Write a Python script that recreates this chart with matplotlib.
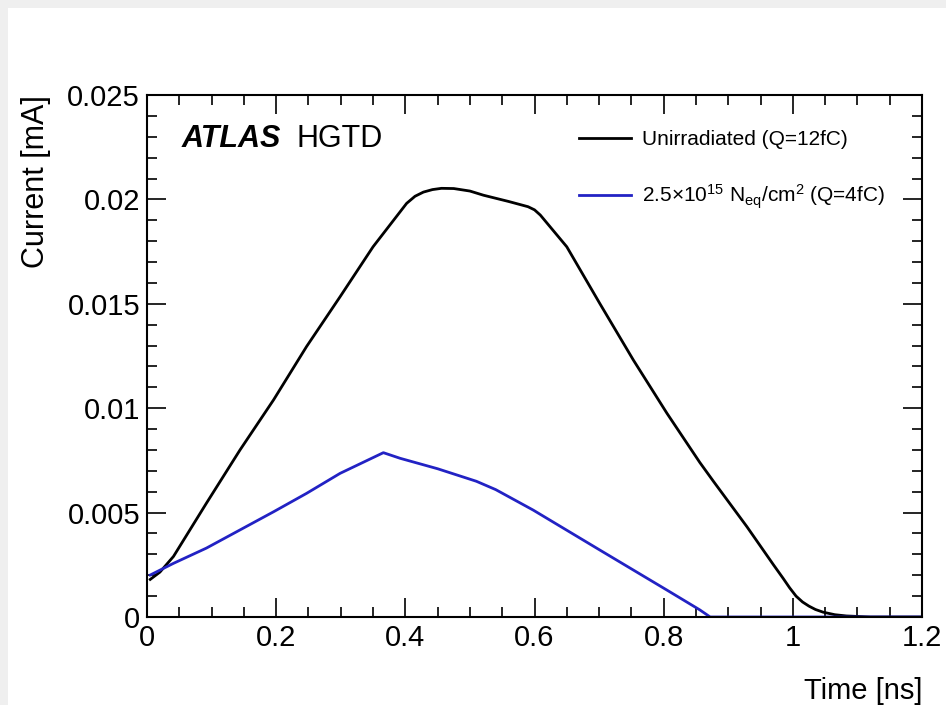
import numpy as np
import matplotlib
matplotlib.use("Agg")
import matplotlib.pyplot as plt
from matplotlib.patches import Rectangle
from matplotlib.ticker import MultipleLocator

plt.rcParams['font.family'] = ['Liberation Sans', 'DejaVu Sans']
plt.rcParams['mathtext.fontset'] = 'custom'
plt.rcParams['mathtext.rm'] = 'Liberation Sans'
plt.rcParams['mathtext.it'] = 'Liberation Sans:italic'
plt.rcParams['mathtext.bf'] = 'Liberation Sans:bold'

# unirradiated sensor, Q = 12 fC
t_unirr = [0.005, 0.020, 0.041, 0.092, 0.144, 0.196, 0.247, 0.299, 0.350, 0.402,
           0.415, 0.428, 0.442, 0.456, 0.475, 0.500, 0.521, 0.560, 0.590, 0.600,
           0.609, 0.650, 0.701, 0.753, 0.805, 0.856, 0.877, 0.929, 0.970, 0.985,
           0.995, 1.005, 1.015, 1.025, 1.035, 1.047, 1.065, 1.083, 1.120, 1.200]
i_unirr = [0.00180, 0.00215, 0.00290, 0.00545, 0.0080, 0.0104, 0.01295, 0.01534, 0.01773, 0.01981,
           0.02015, 0.02035, 0.02047, 0.02053, 0.02052, 0.02040, 0.0202, 0.0199, 0.01965, 0.01950,
           0.01925, 0.01773, 0.01502, 0.01231, 0.00976, 0.00740, 0.00650, 0.00432, 0.00250, 0.00185,
           0.00140, 0.00100, 0.00072, 0.00052, 0.00036, 0.00023, 0.00011, 0.00005, 0.0, 0.0]

# irradiated sensor 2.5e15 neq/cm2, Q = 4 fC
t_irr = [0.005, 0.041, 0.092, 0.144, 0.196, 0.247, 0.299, 0.366, 0.392, 0.450,
         0.510, 0.540, 0.598, 0.701, 0.805, 0.856, 0.872, 1.200]
i_irr = [0.00201, 0.00257, 0.00330, 0.00417, 0.00504, 0.00592, 0.00688, 0.00787, 0.0076, 0.0071,
         0.0065, 0.0061, 0.00512, 0.00321, 0.00129, 0.00034, 0.0, 0.0]

labels = ['Unirradiated (Q=12fC)',
          '2.5×10$^{15}$ N$_{\\mathrm{eq}}$/cm$^{2}$ (Q=4fC)']

fig = plt.figure(figsize=(9.46, 7.05), dpi=100)
fig.patch.set_facecolor('#efefef')
fig.patches.append(Rectangle((8 / 946, 0), 1, 1 - 8 / 705, transform=fig.transFigure,
                             facecolor='white', edgecolor='none', zorder=-10))

ax = fig.add_axes([147 / 946, 1 - 617 / 705, 775 / 946, 522 / 705])
ax.plot(t_unirr, i_unirr, color='black', lw=2, label=labels[0])
ax.plot(t_irr, i_irr, color='#2222c4', lw=2, label=labels[1])

ax.set_xlim(0, 1.2)
ax.set_ylim(0, 0.025)
ax.xaxis.set_minor_locator(MultipleLocator(0.05))
ax.yaxis.set_minor_locator(MultipleLocator(0.001))
ax.set_xticks([0, 0.2, 0.4, 0.6, 0.8, 1.0, 1.2], ['0', '0.2', '0.4', '0.6', '0.8', '1', '1.2'])
ax.set_yticks([0, 0.005, 0.01, 0.015, 0.02, 0.025], ['0', '0.005', '0.01', '0.015', '0.02', '0.025'])
ax.tick_params(which='both', direction='in', top=True, right=True, width=1.2)
ax.tick_params(axis='y', labelsize=21)
ax.tick_params(axis='x', labelsize=21)
ax.tick_params(which='major', length=14, pad=5)
ax.tick_params(which='minor', length=7)
for s in ax.spines.values():
    s.set_linewidth(1.5)

ax.set_ylabel('Current [mA]', fontsize=22, loc='top', labelpad=12)
ax.set_xlabel('Time [ns]', fontsize=21, loc='right', labelpad=18)

ax.text(0.045, 0.915, 'ATLAS', transform=ax.transAxes, fontsize=22, fontweight='bold',
        fontstyle='italic', va='center')
ax.text(0.193, 0.915, 'HGTD', transform=ax.transAxes, fontsize=22, va='center')

ax.legend(loc='upper left', bbox_to_anchor=(0.533, 0.968), frameon=False, fontsize=15,
          handlelength=2.5, handletextpad=0.55, labelspacing=1.6)

fig.savefig('out.png', dpi=100)
